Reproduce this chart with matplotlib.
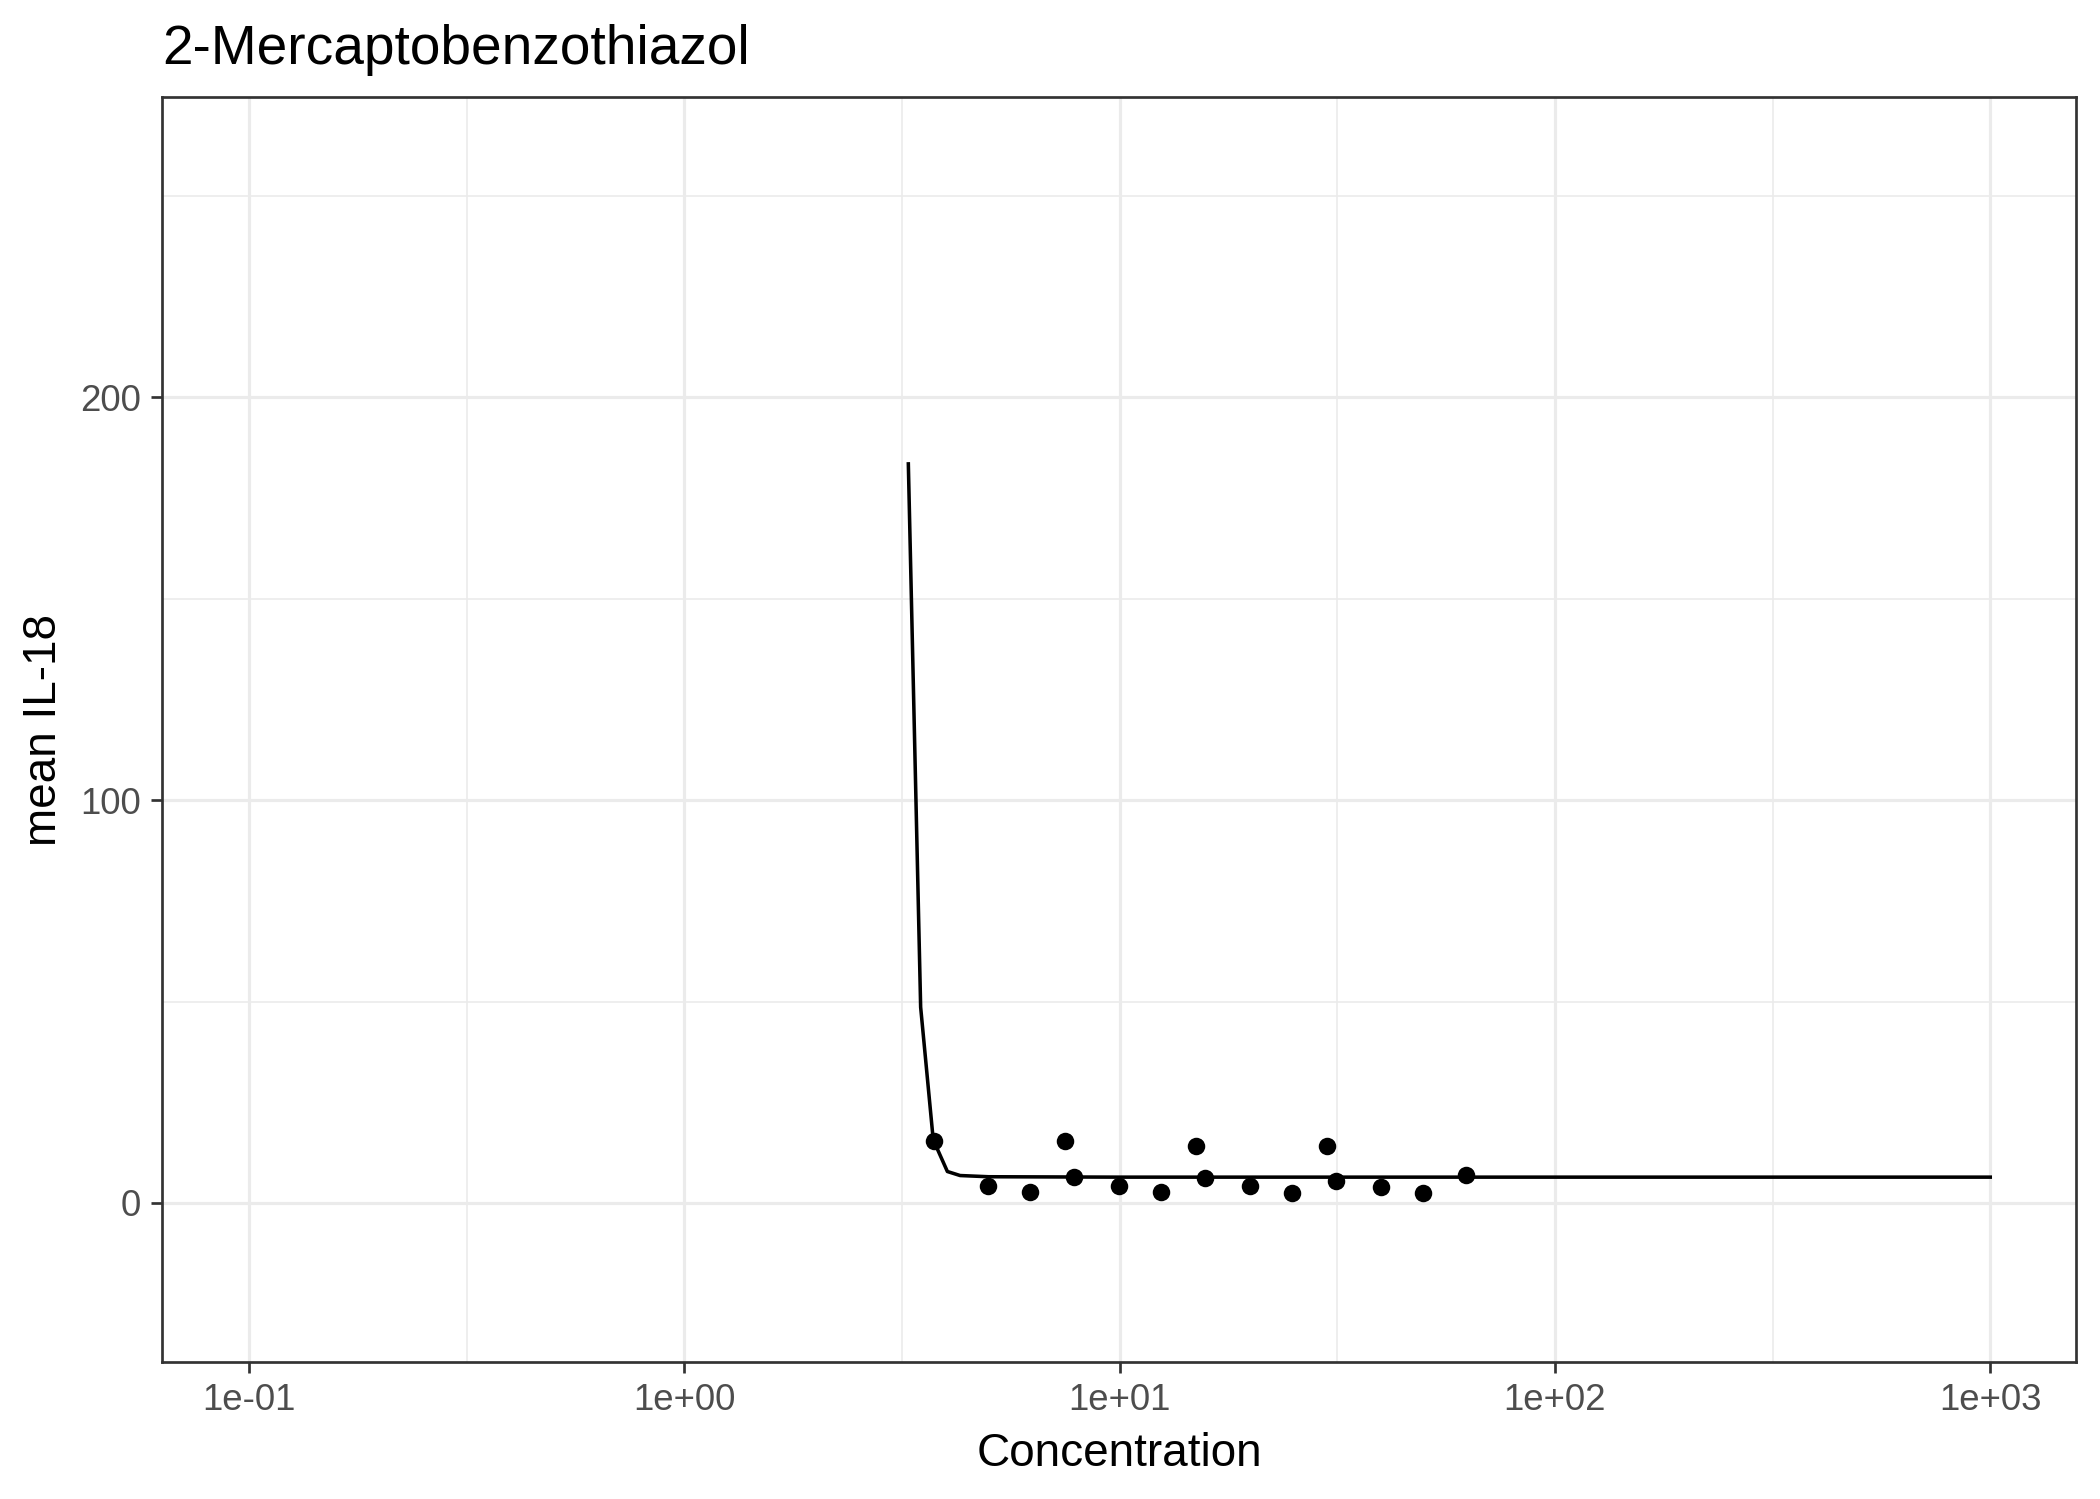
import matplotlib
matplotlib.use("Agg")
import matplotlib.pyplot as plt
from matplotlib.ticker import FixedLocator, FixedFormatter, NullFormatter

plt.rcParams['font.family'] = ['Liberation Sans', 'DejaVu Sans']

# observed points (Concentration, mean IL-18)
conc = [3.74, 4.99, 6.21, 7.49, 7.86, 9.97, 12.44, 14.97, 15.67,
        19.9, 24.9, 30.0, 31.4, 39.8, 49.8, 62.6]
il18 = [15.4, 4.1, 2.7, 15.4, 6.4, 4.1, 2.7, 14.1, 6.3,
        4.1, 2.4, 14.1, 5.4, 3.9, 2.4, 6.9]

# fitted curve
fit_x = [3.27, 3.49, 3.73, 4.02, 4.30, 5.0, 10.0, 100.0, 1000.0]
fit_y = [183.5, 48.6, 15.7, 7.8, 6.8, 6.5, 6.4, 6.4, 6.4]

x_major = [1e-1, 1e0, 1e1, 1e2, 1e3]
x_labels = ['1e-01', '1e+00', '1e+01', '1e+02', '1e+03']
x_minor = [10 ** -0.5, 10 ** 0.5, 10 ** 1.5, 10 ** 2.5]
y_major = [0, 100, 200]
y_minor = [50, 150, 250]

W, H = 2100, 1499
fig = plt.figure(figsize=(W / 300, H / 300), dpi=300)
ax = fig.add_axes([162 / W, 1 - 1362 / H, (2076 - 162) / W, (1362 - 97) / H])

ax.set_xscale('log')
ax.set_xlim(10 ** -1.2, 10 ** 3.197)
ax.set_ylim(-39.5, 274.6)

ax.xaxis.set_major_locator(FixedLocator(x_major))
ax.xaxis.set_major_formatter(FixedFormatter(x_labels))
ax.xaxis.set_minor_locator(FixedLocator(x_minor))
ax.xaxis.set_minor_formatter(NullFormatter())
ax.yaxis.set_major_locator(FixedLocator(y_major))
ax.yaxis.set_minor_locator(FixedLocator(y_minor))
ax.yaxis.set_minor_formatter(NullFormatter())

grid_col = '#EBEBEB'
ax.grid(which='major', color=grid_col, linewidth=0.75)
ax.grid(which='minor', color=grid_col, linewidth=0.4)
ax.set_axisbelow(True)

for s in ax.spines.values():
    s.set_color('#333333')
    s.set_linewidth(0.65)

ax.tick_params(which='major', direction='out', length=2.75, width=0.65,
               color='#333333', labelcolor='#4D4D4D', labelsize=8.8, pad=2.2)
ax.tick_params(which='minor', length=0)

ax.plot(fit_x, fit_y, color='black', linewidth=0.85, zorder=3)
ax.plot(conc, il18, 'o', color='black', markersize=4.2, markeredgewidth=0, zorder=4)

ax.set_xlabel('Concentration', fontsize=11, color='black', labelpad=3.5)
ax.set_ylabel('mean IL-18', fontsize=11, color='black', labelpad=3.5)

fig.text(162 / W, 1 - 64 / H, '2-Mercaptobenzothiazol', fontsize=13.2,
         ha='left', va='baseline', color='black')

fig.savefig('out.png', dpi=300)
